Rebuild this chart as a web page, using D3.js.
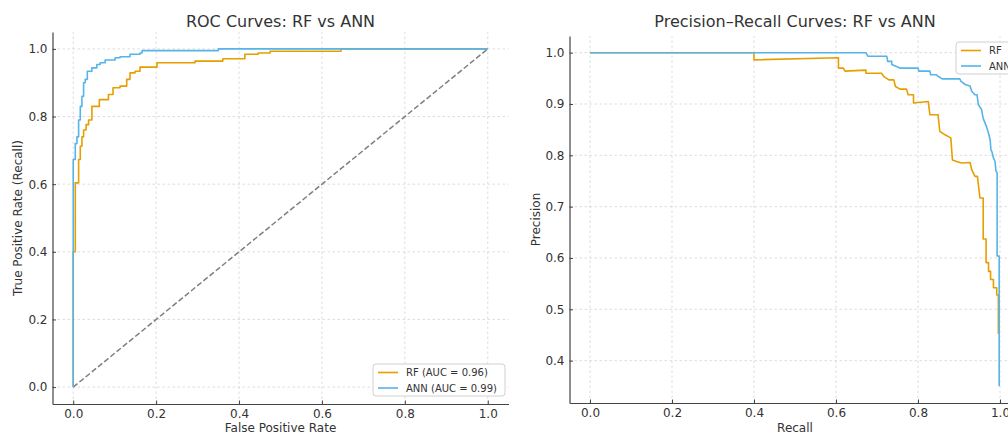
<!DOCTYPE html>
<html><head><meta charset="utf-8">
<script src="https://cdn.jsdelivr.net/npm/d3@7"></script>
<style>
html,body{margin:0;padding:0;background:#fff;}
svg{display:block;font-family:"DejaVu Sans",sans-serif;}
</style></head>
<body><svg id="chart" width="1008" height="434"></svg>
<script>
// ---- data ----
const rocTicks = [0, 0.2, 0.4, 0.6, 0.8, 1.0];
const prXTicks = [0, 0.2, 0.4, 0.6, 0.8, 1.0];
const prYTicks = [0.4, 0.5, 0.6, 0.7, 0.8, 0.9, 1.0];
const seriesNames = ["RF", "ANN"];
const rocLegendLabels = ["RF (AUC = 0.96)", "ANN (AUC = 0.99)"];
const seriesColors = ["#E69F00", "#56B4E9"];

const rocRF = [[0,0],[0,0.40],[0.005,0.40],[0.005,0.604],[0.013,0.604],[0.013,0.673],[0.017,0.673],[0.017,0.712],
 [0.021,0.712],[0.021,0.74],[0.025,0.74],[0.025,0.76],[0.031,0.76],[0.031,0.776],[0.037,0.776],[0.037,0.79],
 [0.045,0.79],[0.045,0.83],[0.063,0.83],[0.063,0.85],[0.085,0.85],[0.085,0.865],[0.096,0.865],[0.096,0.885],
 [0.113,0.885],[0.113,0.89],[0.129,0.89],[0.129,0.91],[0.137,0.91],[0.137,0.929],[0.149,0.929],[0.149,0.934],
 [0.161,0.934],[0.161,0.946],[0.202,0.946],[0.202,0.959],[0.294,0.959],[0.294,0.964],[0.361,0.964],[0.361,0.971],
 [0.414,0.971],[0.414,0.984],[0.446,0.984],[0.446,0.988],[0.475,0.988],[0.475,0.993],[0.646,0.993],[0.646,1],[1,1]];
const rocANN = [[0,0],[0,0.673],[0.005,0.673],[0.005,0.72],[0.009,0.72],[0.009,0.74],[0.013,0.74],[0.013,0.79],
 [0.017,0.79],[0.017,0.83],[0.021,0.83],[0.021,0.86],[0.025,0.86],[0.025,0.90],[0.029,0.90],[0.029,0.91],
 [0.034,0.91],[0.034,0.934],[0.045,0.934],[0.045,0.944],[0.057,0.944],[0.057,0.954],[0.065,0.954],[0.065,0.959],
 [0.077,0.959],[0.077,0.967],[0.101,0.967],[0.101,0.974],[0.113,0.974],[0.113,0.977],[0.137,0.977],[0.137,0.984],
 [0.161,0.984],[0.161,0.988],[0.166,0.988],[0.166,0.995],[0.35,0.995],[0.35,1],[1,1]];

const prRF = [[0,1],[0.4,1],[0.4,0.986],[0.606,0.99],[0.606,0.970],[0.618,0.970],[0.622,0.964],[0.673,0.966],
 [0.673,0.960],[0.711,0.960],[0.716,0.954],[0.729,0.947],[0.741,0.947],[0.745,0.934],[0.756,0.929],[0.772,0.929],
 [0.776,0.918],[0.789,0.918],[0.789,0.902],[0.825,0.905],[0.829,0.879],[0.849,0.879],[0.853,0.847],[0.866,0.840],
 [0.880,0.834],[0.884,0.791],[0.894,0.788],[0.906,0.785],[0.927,0.786],[0.931,0.772],[0.939,0.759],[0.945,0.759],
 [0.951,0.717],[0.959,0.717],[0.959,0.637],[0.966,0.637],[0.966,0.591],[0.972,0.591],[0.972,0.574],[0.977,0.574],
 [0.977,0.558],[0.984,0.558],[0.984,0.542],[0.992,0.542],[0.992,0.528],[0.996,0.528],[0.996,0.452]];
const prANN = [[0,1],[0.673,1],[0.678,0.993],[0.724,0.993],[0.726,0.983],[0.736,0.983],[0.736,0.977],[0.756,0.970],
 [0.80,0.970],[0.802,0.964],[0.829,0.964],[0.831,0.957],[0.845,0.957],[0.849,0.954],[0.859,0.949],[0.902,0.949],
 [0.905,0.944],[0.915,0.938],[0.927,0.935],[0.931,0.925],[0.939,0.918],[0.944,0.918],[0.947,0.899],[0.955,0.889],
 [0.959,0.872],[0.967,0.856],[0.972,0.843],[0.976,0.83],[0.978,0.81],[0.98,0.808],[0.984,0.795],[0.988,0.788],
 [0.990,0.77],[0.993,0.766],[0.993,0.604],[0.998,0.604],[0.998,0.35]];

// ---- drawing ----
const svg = d3.select("#chart");
const gridColor = "#d4d4d4", spineColor = "#444", textColor = "#333";

function panel(opts) {
  const x = d3.scaleLinear().domain(opts.xDomain).range(opts.xRange);
  const y = d3.scaleLinear().domain(opts.yDomain).range(opts.yRange);
  const g = svg.append("g");
  const [x0, x1] = opts.xRange, [y0, y1] = opts.yRange;
  g.selectAll(".gx").data(opts.xTicks).enter().append("line")
    .attr("x1", d => x(d)).attr("x2", d => x(d)).attr("y1", y0).attr("y2", y1)
    .attr("stroke", gridColor).attr("stroke-width", 0.8).attr("stroke-dasharray", "2.5,2.5");
  g.selectAll(".gy").data(opts.yTicks).enter().append("line")
    .attr("x1", x0).attr("x2", x1).attr("y1", d => y(d)).attr("y2", d => y(d))
    .attr("stroke", gridColor).attr("stroke-width", 0.8).attr("stroke-dasharray", "2.5,2.5");
  const xa = g.append("g").attr("transform", `translate(0,${y0})`)
    .call(d3.axisBottom(x).tickValues(opts.xTicks).tickFormat(d3.format(".1f")).tickSizeInner(-3.5).tickSizeOuter(0).tickPadding(5));
  const ya = g.append("g").attr("transform", `translate(${x0},0)`)
    .call(d3.axisLeft(y).tickValues(opts.yTicks).tickFormat(d3.format(".1f")).tickSizeInner(-3.5).tickSizeOuter(0).tickPadding(5));
  [xa, ya].forEach(a => {
    a.select(".domain").attr("stroke", spineColor).attr("stroke-width", 1.2);
    a.selectAll(".tick line").attr("stroke", spineColor).attr("stroke-width", 1);
    a.selectAll(".tick text").attr("fill", textColor).style("font-size", "12px").style("font-family", "DejaVu Sans");
  });
  const cx = (x0 + x1) / 2;
  g.append("text").attr("x", cx).attr("y", 27).attr("text-anchor", "middle")
    .style("font-size", "16px").attr("fill", textColor).text(opts.title);
  g.append("text").attr("x", cx).attr("y", 432).attr("text-anchor", "middle")
    .style("font-size", "12px").attr("fill", textColor).text(opts.xLabel);
  g.append("text").attr("transform", `translate(${opts.yLabelX},${(y0 + y1) / 2}) rotate(-90)`)
    .attr("text-anchor", "middle").style("font-size", "12px").attr("fill", textColor).text(opts.yLabel);
  return {g, x, y};
}

const line = (x, y) => d3.line().x(d => x(d[0])).y(d => y(d[1]));

const roc = panel({
  xDomain: [-0.05, 1.05], xRange: [52.5, 508.5],
  yDomain: [-0.05, 1.05], yRange: [404, 32],
  xTicks: rocTicks, yTicks: rocTicks,
  title: "ROC Curves: RF vs ANN", xLabel: "False Positive Rate",
  yLabel: "True Positive Rate (Recall)", yLabelX: 22
});
roc.g.append("path").datum([[0,0],[1,1]]).attr("d", line(roc.x, roc.y))
  .attr("fill", "none").attr("stroke", "#7f7f7f").attr("stroke-width", 1.5).attr("stroke-dasharray", "5.5,2.5");
[rocRF, rocANN].forEach((s, i) => {
  roc.g.append("path").datum(s).attr("d", line(roc.x, roc.y))
    .attr("fill", "none").attr("stroke", seriesColors[i]).attr("stroke-width", 1.6).attr("stroke-linejoin", "round");
});

const pr = panel({
  xDomain: [-0.05, 1.05], xRange: [569.5, 1020.5],
  yDomain: [0.3175, 1.0325], yRange: [403, 36],
  xTicks: prXTicks, yTicks: prYTicks,
  title: "Precision\u2013Recall Curves: RF vs ANN", xLabel: "Recall",
  yLabel: "Precision", yLabelX: 540
});
[prRF, prANN].forEach((s, i) => {
  pr.g.append("path").datum(s).attr("d", line(pr.x, pr.y))
    .attr("fill", "none").attr("stroke", seriesColors[i]).attr("stroke-width", 1.6).attr("stroke-linejoin", "round");
});

function legend(left, top, width, labels) {
  const lg = svg.append("g").attr("transform", `translate(${left},${top})`);
  lg.append("rect").attr("x", 0).attr("y", 0).attr("width", width).attr("height", 32).attr("rx", 3)
    .attr("fill", "#fff").attr("fill-opacity", 0.85).attr("stroke", "#d0d0d0").attr("stroke-width", 1);
  labels.forEach((t, i) => {
    const yy = 8.5 + i * 15.5;
    lg.append("line").attr("x1", 5).attr("x2", 25).attr("y1", yy).attr("y2", yy)
      .attr("stroke", seriesColors[i]).attr("stroke-width", 1.6);
    lg.append("text").attr("x", 33).attr("y", yy + 3.5).style("font-size", "10px").attr("fill", textColor).text(t);
  });
}
legend(373, 364, 132, rocLegendLabels);
legend(956, 42, 70, seriesNames);
</script></body></html>
